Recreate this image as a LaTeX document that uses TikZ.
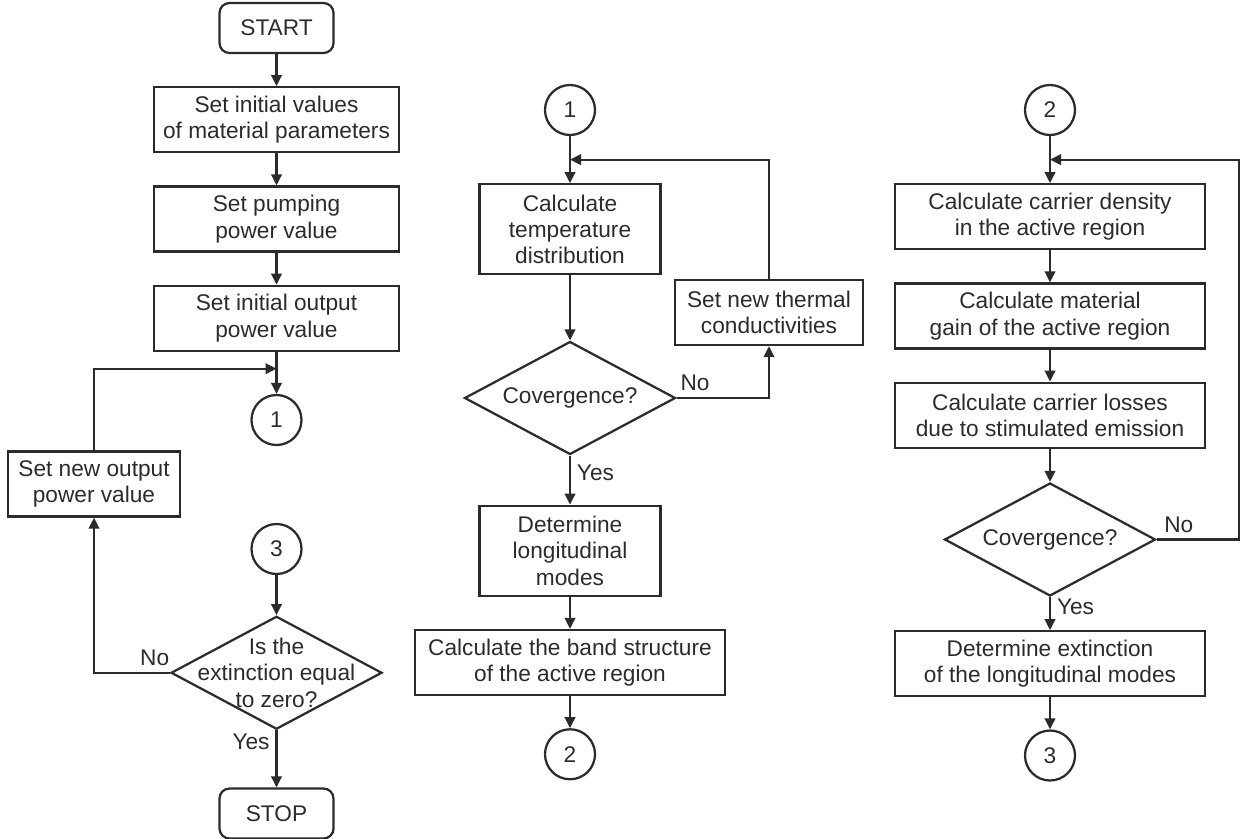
\documentclass[tikz,border=0pt]{standalone}
\usepackage{fontspec}
\setmainfont{Liberation Sans}
\usepackage{xcolor}
\usetikzlibrary{shapes,arrows.meta,positioning,calc}
\definecolor{inkgray}{HTML}{2B2B2B}

\begin{document}
\begin{tikzpicture}[
  node distance=6.4mm,
  every node/.style={font=\fontsize{12.9}{15}\selectfont, text=inkgray},
  stepbox/.style={draw=inkgray, line width=0.45mm, align=center, minimum height=13mm, inner sep=1mm},
  termbox/.style={stepbox, rounded corners=2mm, minimum width=22.8mm, minimum height=10mm},
  connbox/.style={draw=inkgray, line width=0.45mm, circle, minimum size=10mm, inner sep=0pt},
  decbox/.style={draw=inkgray, line width=0.45mm, diamond, aspect=1.87, minimum width=42.2mm, minimum height=22.6mm, inner sep=0pt, align=center},
  arr/.style={-{Triangle[length=2.2mm, width=2.1mm]}, line width=0.45mm, draw=inkgray}
]
\useasboundingbox (0,0) rectangle (248.6mm,-167.6mm);

% left column: setup and outer loop
\node[termbox] (start) at (55.3mm,-5.6mm) {START};
\node[stepbox, minimum width=49mm, below=of start] (matpar) {Set initial values\\of material parameters};
\node[stepbox, minimum width=49mm, below=of matpar] (pump) {Set pumping\\power value};
\node[stepbox, minimum width=49mm, below=of pump] (outpow) {Set initial output\\power value};
\node[connbox, below=8.4mm of outpow] (conA) {1};
\node[stepbox, minimum width=34.4mm] (newout) at (18.8mm,-96.8mm) {Set new output\\power value};
\node[connbox] (conC) at (55.3mm,-109.8mm) {3};
\node[decbox, inner sep=-3.3mm, below=8mm of conC] (zero) {Is the\\extinction equal\\to zero?};
\node[termbox, below=11.4mm of zero] (stop) {STOP};

% middle column: thermal loop
\node[connbox] (conB) at (114mm,-22mm) {1};
\node[stepbox, minimum width=36.2mm, minimum height=18mm, below=9.4mm of conB] (temp) {Calculate\\temperature\\distribution};
\node[decbox, below=13mm of temp] (convT) {Covergence?};
\node[stepbox, minimum width=37.6mm] (thermal) at (153.8mm,-62.5mm) {Set new thermal\\conductivities};
\node[stepbox, minimum width=36.2mm, minimum height=18mm, below=9.8mm of convT] (modes) {Determine\\longitudinal\\modes};
\node[stepbox, minimum width=62mm, below=of modes] (band) {Calculate the band structure\\of the active region};
\node[connbox, below=of band] (conD) {2};

% right column: carrier loop
\node[connbox] (conE) at (210mm,-22mm) {2};
\node[stepbox, minimum width=62mm, below=9.4mm of conE] (density) {Calculate carrier density\\in the active region};
\node[stepbox, minimum width=62mm, below=of density] (gain) {Calculate material\\gain of the active region};
\node[stepbox, minimum width=62mm, below=of gain] (losses) {Calculate carrier losses\\due to stimulated emission};
\node[decbox, below=6.6mm of losses] (convN) {Covergence?};
\node[stepbox, minimum width=62mm, below=6.6mm of convN] (extinct) {Determine extinction\\of the longitudinal modes};
\node[connbox, below=of extinct] (conF) {3};

% loop joints
\coordinate (jA) at ($(outpow.south)!0.4!(conA.north)$);
\coordinate (jB) at ($(conB.south)!0.5!(temp.north)$);
\coordinate (jE) at ($(conE.south)!0.5!(density.north)$);

\draw[arr] (start) -- (matpar);
\draw[arr] (matpar) -- (pump);
\draw[arr] (pump) -- (outpow);
\draw[arr] (outpow) -- (conA);
\draw[arr] (newout.north) |- (jA);
\draw[arr] (conC) -- (zero);
\draw[arr] (zero.west) -| node[above, pos=0.1] {No} (newout.south);
\draw[arr] (zero) -- node[left, pos=0.2] {Yes} (stop);

\draw[arr] (conB) -- (temp);
\draw[arr] (temp) -- (convT);
\draw[arr] (convT.east) -| node[above, pos=0.1] {No} (thermal.south);
\draw[arr] (thermal.north) |- (jB);
\draw[arr] (convT) -- node[right, pos=0.35] {Yes} (modes);
\draw[arr] (modes) -- (band);
\draw[arr] (band) -- (conD);

\draw[arr] (conE) -- (density);
\draw[arr] (density) -- (gain);
\draw[arr] (gain) -- (losses);
\draw[arr] (losses) -- (convN);
\draw[arr] (convN.east) -- node[above, pos=0.27] {No} ++(16.4mm,0) |- (jE);
\draw[arr] (convN) -- node[right, pos=0.3] {Yes} (extinct);
\draw[arr] (extinct) -- (conF);
\end{tikzpicture}
\end{document}
